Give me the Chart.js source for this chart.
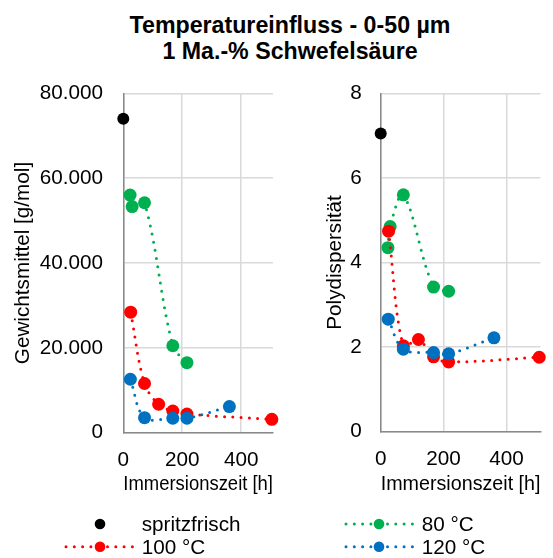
<!DOCTYPE html>
<html><head><meta charset="utf-8">
<script src="https://cdn.jsdelivr.net/npm/chart.js@4"></script>
<style>
body{margin:0;background:#fff;width:553px;height:558px;overflow:hidden;position:relative;font-family:"Liberation Sans",Arial,sans-serif;}
#title{position:absolute;left:0;width:580px;top:12px;text-align:center;font-weight:bold;font-size:23.2px;line-height:26px;color:#000;}
canvas{position:absolute;}
.leg{position:absolute;font-size:20.7px;line-height:24px;color:#000;white-space:nowrap;}
svg{position:absolute;left:0;top:0;}
</style></head><body>
<div id="title">Temperatureinfluss - 0-50 µm<br>1 Ma.-% Schwefelsäure</div>
<canvas id="c1" width="285" height="440" style="left:0;top:60px"></canvas>
<canvas id="c2" width="273" height="440" style="left:280px;top:60px"></canvas>
<svg id="legsvg" width="553" height="558"></svg>
<script>
// ---- data ----
const timeSpritz = [0];
const mwSpritz   = [74000];
const pdSpritz   = [7.05];

const time80 = [23, 30, 72, 168, 216];
const mw80   = [56000, 53300, 54200, 20500, 16500];
const pd80   = [4.35, 4.85, 5.6, 3.42, 3.32];

const time100 = [25, 72, 120, 168, 216, 504];
const mw100   = [28400, 11600, 6700, 5100, 4400, 3150];
const pd100   = [4.74, 2.03, 2.18, 1.77, 1.65, 1.76];

const time120 = [24, 72, 168, 216, 360];
const mw120   = [12600, 3550, 3400, 3400, 6150];
const pd120   = [2.66, 1.95, 1.87, 1.84, 2.22];

const seriesNames = ['spritzfrisch', '80 °C', '100 °C', '120 °C'];
const mwTickLabels = ['0', '20.000', '40.000', '60.000', '80.000'];
const pdTickLabels = ['0', '2', '4', '6', '8'];
const xTickLabels  = ['0', '200', '400'];

// ---- styling ----
const FONT = '"Liberation Sans", Arial, sans-serif';
Chart.defaults.font.family = FONT;
Chart.defaults.color = '#000';
const COLORS = ['#000000', '#00B050', '#FF0000', '#0070C0'];

function pts(xs, ys){ return xs.map((x,i)=>({x:x, y:ys[i]})); }

function makeDatasets(ys){
  const times = [timeSpritz, time80, time100, time120];
  return ys.map((y,i)=>({
    label: seriesNames[i],
    data: pts(times[i], y),
    showLine: i>0,
    borderColor: COLORS[i],
    backgroundColor: COLORS[i],
    pointBackgroundColor: COLORS[i],
    pointBorderWidth: 0,
    pointRadius: i===0 ? 6 : 6.5,
    pointHoverRadius: i===0 ? 6 : 6.5,
    borderWidth: 3,
    borderDash: [0, 8.3],
    borderCapStyle: 'round',
    tension: 0.35,
    fill: false,
    clip: false,
    order: 3 - i
  }));
}

function makeChart(id, ys, yMax, yStep, yLabels, yTitle, cfg){
  return new Chart(document.getElementById(id), {
    type: 'scatter',
    data: { datasets: makeDatasets(ys) },
    options: {
      responsive: false,
      animation: false,
      devicePixelRatio: 1,
      layout: { padding: { left: 0, right: cfg.padRight, top: 33.3, bottom: 0 } },
      plugins: { legend: { display: false }, tooltip: { enabled: false }, title: { display: false } },
      scales: {
        x: {
          type: 'linear', min: 0, max: 508,
          ticks: { stepSize: 200, includeBounds: false, padding: 15, font: { size: 20.7 }, color: '#000', maxRotation: 0,
                   callback: (v)=> xTickLabels[Math.round(v/200)] },
          grid: { color: '#D9D9D9', lineWidth: 1.5, drawTicks: false },
          border: { color: '#898989', width: 1.5 },
          title: { display: true, text: 'Immersionszeit [h]', font: { size: 20.7 }, color: '#000', padding: { top: 0, bottom: 3 } },
          afterFit: (s)=>{ s.height = cfg.xHeight; }
        },
        y: {
          type: 'linear', min: 0, max: yMax,
          ticks: { stepSize: yStep, padding: cfg.tickPad, font: { size: 20.7 }, color: '#000',
                   callback: (v)=> yLabels[Math.round(v/yStep)] },
          grid: { color: '#D9D9D9', lineWidth: 1.5, drawTicks: false },
          border: { color: '#898989', width: 1.5 },
          title: { display: true, text: yTitle, font: { size: 20.7 }, color: '#000', padding: { top: cfg.titlePad, bottom: 0 } },
          afterFit: (s)=>{ s.width = cfg.yWidth; }
        }
      }
    }
  });
}

makeChart('c1', [mwSpritz, mw80, mw100, mw120], 80000, 20000, mwTickLabels, 'Gewichtsmittel [g/mol]',
  { padRight: 12, xHeight: 67.3, tickPad: 20.3, titlePad: 10.7, yWidth: 123.3 });
makeChart('c2', [pdSpritz, pd80, pd100, pd120], 8, 2, pdTickLabels, 'Polydispersität',
  { padRight: 12.5, xHeight: 68.3, tickPad: 19, titlePad: 42.7, yWidth: 100.7 });

// ---- legend ----
const svg = document.getElementById('legsvg');
const NS = 'http://www.w3.org/2000/svg';
function legItem(idx, x0, x1, mx, cy, tx){
  const c = COLORS[idx];
  if (x1 > x0){
    const l = document.createElementNS(NS, 'line');
    l.setAttribute('x1', x0); l.setAttribute('x2', x1);
    l.setAttribute('y1', cy); l.setAttribute('y2', cy);
    l.setAttribute('stroke', c); l.setAttribute('stroke-width', 3);
    l.setAttribute('stroke-dasharray', '0 8.3'); l.setAttribute('stroke-linecap', 'round');
    svg.appendChild(l);
  }
  const m = document.createElementNS(NS, 'circle');
  m.setAttribute('cx', mx); m.setAttribute('cy', cy); m.setAttribute('r', 5.3); m.setAttribute('fill', c);
  svg.appendChild(m);
  const d = document.createElement('div');
  d.className = 'leg';
  d.style.left = tx + 'px'; d.style.top = (cy - 12) + 'px';
  d.textContent = seriesNames[idx];
  document.body.appendChild(d);
}
legItem(0, 0, 0, 100, 524, 141.7);
legItem(1, 346, 413, 379, 524, 421.7);
legItem(2, 66, 134, 100, 546.7, 141.7);
legItem(3, 346, 413, 379, 546.7, 421.7);
</script>
</body></html>
